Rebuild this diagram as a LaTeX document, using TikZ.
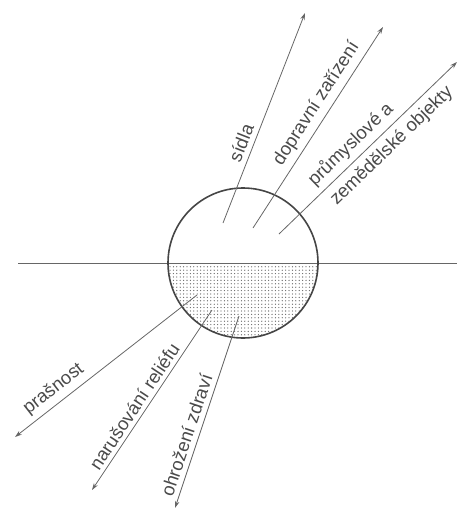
\documentclass[tikz,border=0pt]{standalone}
\usepackage{fontspec}
\setmainfont{Liberation Sans}
\usetikzlibrary{arrows.meta,patterns.meta}
\definecolor{linec}{HTML}{666666}
\definecolor{circc}{HTML}{454545}
\definecolor{textc}{HTML}{4A4A4A}
\newfontfamily\lblfont{Liberation Sans}
\tikzdeclarepattern{
  name=mydots,
  type=uncolored,
  bounding box={(-1.7pt,-1.7pt) and (1.7pt,1.7pt)},
  tile size={(3.4pt,3.4pt)},
  code={\pgfpathcircle{\pgfpointorigin}{0.65pt}\pgfusepath{fill}}
}
\begin{document}
\begin{tikzpicture}[x=1pt,y=-1pt,
  arr/.style={draw=linec,line width=0.8pt,-{Stealth[length=7pt,width=4.5pt]}},
  lbl/.style={sloped,inner sep=0pt,text=textc,font=\lblfont\fontsize{18.5}{19}\selectfont}]
\useasboundingbox (0,0) rectangle (459,515);
% circle
\coordinate (C) at (243,263);
\begin{scope}
  \clip (C) circle[radius=75pt];
  \fill[pattern=mydots,pattern color=black!60] (160,263) rectangle (330,345);
\end{scope}
% horizontal line
\coordinate (L) at (18,263);
\coordinate (R) at (457,263);
\draw[linec,line width=0.9pt] (L) -- (R);
\draw[circc,line width=1.6pt] (C) circle[radius=75pt];
% upper arrows
\coordinate (t1) at (223,223); \coordinate (h1) at (305,13);
\coordinate (t2) at (253,228); \coordinate (h2) at (383,27);
\coordinate (t3) at (279,234); \coordinate (h3) at (457,62);
\draw[arr] (t1) -- (h1) node[lbl,pos=0.36,above=5pt] (l1) {sídla};
\draw[arr] (t2) -- (h2) node[lbl,pos=0.58,above=5pt] (l2) {dopravní zařízení};
\draw[arr] (t3) -- (h3) node[lbl,pos=0.46,above=5pt] (l3) {průmyslové a}
                        node[lbl,pos=0.575,below=6pt] (l4) {zemědělské objekty};
% lower arrows
\coordinate (t5) at (197,295); \coordinate (h5) at (15,437);
\coordinate (t6) at (212,310); \coordinate (h6) at (92,490);
\coordinate (t7) at (239,316); \coordinate (h7) at (175,508);
\draw[arr] (t5) -- (h5) node[lbl,pos=0.74,above=5pt] (l5) {prašnost};
\draw[arr] (t6) -- (h6) node[lbl,pos=0.57,above=4pt] (l6) {narušování reliéfu};
\draw[arr] (t7) -- (h7) node[lbl,pos=0.64,above=5pt] (l7) {ohrožení zdraví};
\end{tikzpicture}
\end{document}
